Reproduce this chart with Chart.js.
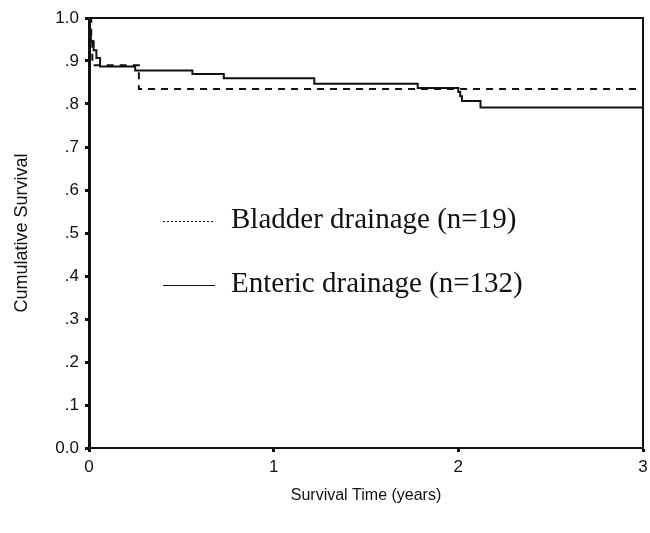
<!DOCTYPE html>
<html>
<head>
<meta charset="utf-8">
<script src="https://cdn.jsdelivr.net/npm/chart.js@4/dist/chart.umd.min.js"></script>
<style>
  html, body { margin: 0; padding: 0; background: #fff; }
  #wrap { width: 650px; height: 533px; position: relative; }
</style>
</head>
<body>
<div id="wrap"><canvas id="km" width="650" height="533"></canvas></div>
<script>
// Kaplan-Meier steps (time in years, cumulative survival)
const entericTimes    = [0, 0.003, 0.01, 0.025, 0.04, 0.06, 0.25, 0.56, 0.73, 1.22, 1.78, 2.0, 2.01, 2.02, 2.12, 3];
const entericSurvival = [1.0, 0.965, 0.946, 0.925, 0.907, 0.887, 0.878, 0.870, 0.860, 0.847, 0.837, 0.828, 0.818, 0.807, 0.792, 0.792];

const bladderTimes    = [0, 0.012, 0.018, 0.27, 3];
const bladderSurvival = [1.0, 0.947, 0.890, 0.835, 0.835];

const seriesLabels = ['Bladder drainage (n=19)', 'Enteric drainage (n=132)'];
const yTicks = [0, 0.1, 0.2, 0.3, 0.4, 0.5, 0.6, 0.7, 0.8, 0.9, 1.0];
const xTicks = [0, 1, 2, 3];

const ink = '#111';
const sans = '"Liberation Sans", Arial, sans-serif';

function toPoints(xs, ys) {
    return xs.map((x, i) => ({ x: x, y: ys[i] }));
}

// frame around the plot area (top and right edges of the box)
const framePlugin = {
    id: 'frame',
    afterDraw(chart) {
        const { ctx, chartArea: a } = chart;
        ctx.save();
        ctx.strokeStyle = ink;
        ctx.lineWidth = 2;
        ctx.beginPath();
        ctx.moveTo(a.left, a.top);
        ctx.lineTo(a.right, a.top);
        ctx.lineTo(a.right, a.bottom);
        ctx.stroke();
        ctx.restore();
    }
};

// legend drawn inside the plot, like the original
const innerLegend = {
    id: 'innerLegend',
    afterDraw(chart) {
        const { ctx, scales } = chart;
        const rows = [
            { ds: chart.data.datasets[0], yVal: 0.527 },
            { ds: chart.data.datasets[1], yVal: 0.380 }
        ];
        ctx.save();
        ctx.font = '29px "Liberation Serif", "Times New Roman", serif';
        ctx.fillStyle = ink;
        ctx.textBaseline = 'alphabetic';
        rows.forEach(r => {
            const y = Math.round(scales.y.getPixelForValue(r.yVal)) + 0.5;
            ctx.strokeStyle = ink;
            ctx.lineWidth = 1;
            ctx.setLineDash(r.ds.borderDash && r.ds.borderDash.length ? [2, 2] : []);
            ctx.beginPath();
            ctx.moveTo(163, y);
            ctx.lineTo(215, y);
            ctx.stroke();
            ctx.setLineDash([]);
            ctx.fillText(r.ds.label, 231, y + 6.5);
        });
        ctx.restore();
    }
};

const chart = new Chart(document.getElementById('km'), {
    type: 'line',
    data: {
        datasets: [
            {
                label: seriesLabels[0],
                data: toPoints(bladderTimes, bladderSurvival),
                borderColor: ink,
                borderWidth: 2,
                borderDash: [7, 6],
                stepped: true,
                pointRadius: 0,
                fill: false
            },
            {
                label: seriesLabels[1],
                data: toPoints(entericTimes, entericSurvival),
                borderColor: ink,
                borderWidth: 2,
                stepped: true,
                pointRadius: 0,
                fill: false
            }
        ]
    },
    options: {
        responsive: false,
        animation: false,
        layout: { padding: { top: 18, right: 7, left: 0, bottom: 0 } },
        plugins: {
            legend: { display: false },
            tooltip: { enabled: false }
        },
        scales: {
            x: {
                type: 'linear',
                min: 0,
                max: 3,
                afterBuildTicks: axis => { axis.ticks = xTicks.map(v => ({ value: v })); },
                afterFit: axis => {
                    axis.height = 85;
                    axis.paddingLeft = 0;
                    axis.paddingRight = 0;
                },
                border: { color: ink, width: 2 },
                grid: { drawOnChartArea: false, tickLength: 4, tickWidth: 3, tickColor: ink },
                ticks: {
                    color: ink,
                    padding: 5,
                    font: { family: sans, size: 17 },
                    callback: v => String(v)
                },
                title: {
                    display: true,
                    text: 'Survival Time (years)',
                    color: ink,
                    font: { family: sans, size: 16 },
                    padding: { top: 4, bottom: 28 }
                }
            },
            y: {
                min: 0,
                max: 1,
                afterBuildTicks: axis => { axis.ticks = yTicks.map(v => ({ value: v })); },
                afterFit: axis => { axis.width = 89; },
                border: { color: ink, width: 3 },
                grid: { drawOnChartArea: false, tickLength: 4, tickWidth: 3, tickColor: ink },
                ticks: {
                    color: ink,
                    padding: 6,
                    font: { family: sans, size: 17 },
                    callback: v => {
                        if (v === 0) return '0.0';
                        if (v === 1) return '1.0';
                        return v.toFixed(1).replace(/^0/, '');
                    }
                },
                title: {
                    display: true,
                    text: 'Cumulative Survival',
                    color: ink,
                    font: { family: sans, size: 18 },
                    padding: { top: 11, bottom: 4 }
                }
            }
        }
    },
    plugins: [framePlugin, innerLegend]
});
</script>
</body>
</html>
